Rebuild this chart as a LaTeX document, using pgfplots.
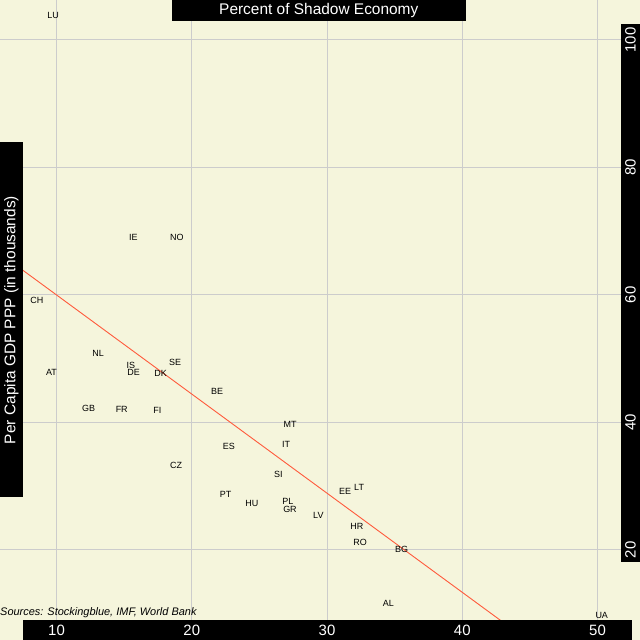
\documentclass[border=0pt]{standalone}
\usepackage{pgfplots}
\pgfplotsset{compat=1.18}
\usepackage{fontspec}
\setmainfont{Liberation Sans}

\definecolor{paper}{RGB}{245,245,220}
\definecolor{gridgray}{RGB}{204,204,204}
\definecolor{trend}{RGB}{255,90,60}

% shadow economy (%) vs. GDP per capita PPP (thousands)
\pgfplotstableread{
label x y
LU 9.75 103.8
IE 15.68 69.05
NO 18.89 69.05
CH 8.54 59.2
NL 13.07 50.85
AT 9.62 47.8
IS 15.5 49.0
DE 15.7 47.8
DK 17.7 47.7
SE 18.76 49.5
BE 21.87 44.9
GB 12.38 42.2
FR 14.82 42.0
FI 17.45 41.9
MT 27.27 39.7
IT 26.97 36.6
ES 22.75 36.25
CZ 18.84 33.2
SI 26.4 31.9
EE 31.33 29.2
LT 32.37 29.8
PT 22.5 28.7
HU 24.45 27.3
PL 27.1 27.6
GR 27.26 26.3
LV 29.36 25.5
HR 32.2 23.65
RO 32.44 21.15
BG 35.52 20.1
AL 34.53 11.64
UA 50.31 9.69
}\countries

\begin{document}
\begin{tikzpicture}
\begin{axis}[
  name=ax,
  scale only axis, width=640bp, height=640bp,
  xmin=5.82, xmax=53.14, ymin=5.88, ymax=106.27,
  axis background/.style={fill=paper},
  axis line style={draw=none},
  xtick={10,20,30,40,50}, ytick={20,40,60,80,100},
  xticklabels={}, yticklabels={},
  major tick length=0pt,
  grid=major, grid style={gridgray, line width=1bp},
]
\addplot[trend, line width=0.9bp] coordinates {(5,67.78) (45,5.58)};

\addplot[only marks, mark=none,
  nodes near coords={\pgfplotspointmeta},
  point meta=explicit symbolic,
  nodes near coords style={anchor=center, inner sep=0pt, text=black,
    font=\fontsize{9}{9}\selectfont}]
  table[x=x, y=y, meta=label] {\countries};

% black boxes
\fill[black] (rel axis cs:0.26875,1) rectangle (rel axis cs:0.7289,0.9672);
\fill[black] (rel axis cs:0,0.7781) rectangle (rel axis cs:0.03547,0.2234);
\fill[black] (rel axis cs:0.03547,0.03125) rectangle (rel axis cs:0.98703,0);
\fill[black] (rel axis cs:0.9703,0.9625) rectangle (rel axis cs:1,0.12234);

\node[text=white, font=\fontsize{15.5}{15.5}\selectfont, inner sep=0pt]
  at (rel axis cs:0.4981,0.9836) {Percent of Shadow Economy};
\node[text=white, font=\fontsize{15.5}{15.5}\selectfont, inner sep=0pt, rotate=90]
  at (rel axis cs:0.0177,0.5) {Per Capita GDP PPP (in thousands)};

\pgfplotsinvokeforeach{10,20,30,40,50}{
  \node[text=white, font=\fontsize{15}{15}\selectfont, inner sep=0pt]
    at (axis cs:#1,7.45) {#1};
}
\pgfplotsinvokeforeach{20,40,60,80,100}{
  \node[text=white, font=\fontsize{15}{15}\selectfont, inner sep=0pt, rotate=90]
    at (axis cs:52.44,#1) {#1};
}

\node[anchor=west, inner sep=0pt, font=\fontsize{11}{11}\selectfont\itshape]
  at (rel axis cs:0,0.0422) {Sources: Stockingblue, IMF, World Bank};
\end{axis}
\pgfresetboundingbox
\path[use as bounding box] (ax.south west) rectangle (ax.north east);
\end{tikzpicture}
\end{document}
